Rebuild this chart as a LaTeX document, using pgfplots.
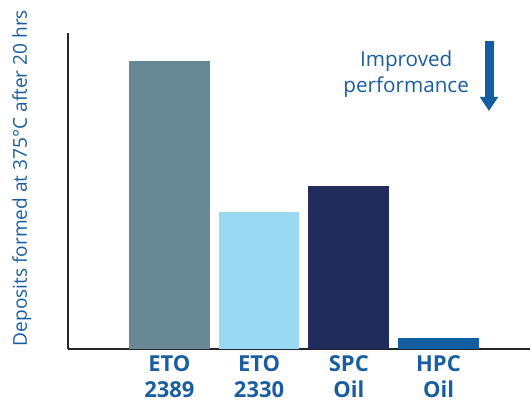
\documentclass[border=0pt]{standalone}
\usepackage{pgfplots}
\pgfplotsset{compat=1.18}
\usetikzlibrary{arrows.meta}
\usepackage{fontspec}
\setmainfont{Open Sans}
\definecolor{txtblue}{HTML}{1A5EA0}
\definecolor{barA}{HTML}{688896}
\definecolor{barB}{HTML}{9AD9F2}
\definecolor{barC}{HTML}{222C5C}
\definecolor{barD}{HTML}{135EA1}
\begin{document}
\begin{tikzpicture}
  \begin{axis}[
      scale only axis,
      width=346.5pt, height=237pt,
      xmin=-1.13, xmax=4.02,
      ymin=0, ymax=316,
      axis x line*=bottom,
      axis y line*=left,
      axis line style={-, line width=1.5pt, color=black!85},
      ytick=\empty,
      xtick={0,1,2,3},
      xticklabels={ETO\\2389, ETO\\2330, SPC\\Oil, HPC\\Oil},
      xticklabel style={align=center, font=\fontsize{16.5}{19}\selectfont\bfseries,
        text=txtblue, yshift=-4pt, inner sep=1pt},
      major tick length=0pt,
      ylabel={Deposits formed at 375°C after 20 hrs},
      ylabel style={at={(axis description cs:-0.1,0.541)}, anchor=center,
        font=\fontsize{14.3}{16}\selectfont, text=txtblue},
      ybar, bar width=0.9, bar shift=0pt,
      clip=false,
    ]
    \addplot[fill=barA, draw=none] coordinates {(0,288)};
    \addplot[fill=barB, draw=none] coordinates {(1,137)};
    \addplot[fill=barC, draw=none] coordinates {(2,163)};
    \addplot[fill=barD, draw=none] coordinates {(3,11)};
    \node[align=center, text=txtblue, font=\fontsize{15.5}{19.5}\selectfont]
      at (axis cs:2.64,275) {Improved\\performance};
    \draw[barD, line width=6.75pt, -{Triangle[width=13pt,length=10.5pt]}]
      (axis cs:3.563,308) -- (axis cs:3.563,238);
  \end{axis}
  \pgfresetboundingbox
  \useasboundingbox (-51pt,-41.25pt) rectangle (348pt,261.75pt);
\end{tikzpicture}
\end{document}
